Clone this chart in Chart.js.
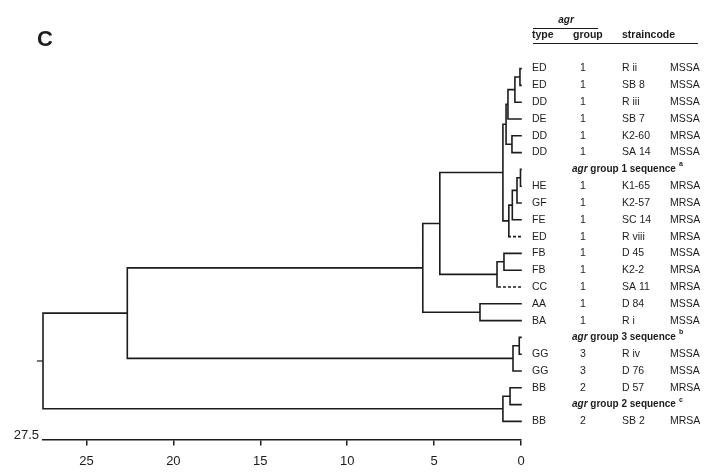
<!DOCTYPE html>
<html>
<head>
<meta charset="utf-8">
<script src="https://cdn.jsdelivr.net/npm/chart.js@4.4.0/dist/chart.umd.min.js"></script>
<style>
  html, body { margin: 0; padding: 0; background: #fff; }
  #wrap { width: 714px; height: 475px; }
</style>
</head>
<body>
<div id="wrap"><canvas id="dendro" width="714" height="475"></canvas></div>
<script>
// filas del dendrograma (de arriba a abajo)
const tipos = ["ED","ED","DD","DE","DD","DD","","HE","GF","FE","ED","FB","FB","CC","AA","BA","","GG","GG","BB","","BB"];
const grupos = ["1","1","1","1","1","1","","1","1","1","1","1","1","1","1","1","","3","3","2","","2"];
const cepas = ["R ii","SB 8","R iii","SB 7","K2-60","SA 14","","K1-65","K2-57","SC 14","R viii","D 45","K2-2","SA 11","D 84","R i","","R iv","D 76","D 57","","SB 2"];
const resistencia = ["MSSA","MSSA","MSSA","MSSA","MRSA","MSSA","","MRSA","MRSA","MRSA","MRSA","MSSA","MRSA","MRSA","MSSA","MSSA","","MSSA","MSSA","MRSA","","MRSA"];
const filasSecuencia = [6, 16, 20];
const gruposSecuencia = ["1", "3", "2"];
const notasSecuencia = ["a", "b", "c"];
const hojasPunteadas = [10, 13];

// uniones: [hijoA, hijoB, distancia]  (numero = fila, "nX" = nodo anterior)
const nodos = [
  [0, 1, 0.06],
  ["n0", 2, 0.35],
  ["n1", 3, 0.75],
  [4, 5, 0.52],
  ["n2", "n3", 0.86],
  [6, 7, 0.03],
  ["n5", 8, 0.23],
  ["n6", 9, 0.5],
  ["n7", 10, 0.7],
  ["n4", "n8", 1.04],
  [11, 12, 0.98],
  ["n10", 13, 1.38],
  ["n9", "n11", 4.67],
  [14, 15, 2.36],
  ["n12", "n13", 5.65],
  [16, 17, 0.1],
  ["n15", 18, 0.46],
  ["n14", "n16", 22.65],
  [19, 20, 0.63],
  ["n18", 21, 1.04],
  ["n17", "n19", 27.5]
];
const ticksX = [0, 5, 10, 15, 20, 25];
const distMax = 27.5;

const fuente = "'Liberation Sans', Arial, sans-serif";
const negro = "#1c1c1c";

// armar segmentos del arbol
const solidos = [];
const punteados = [];
const posNodo = [];

function info(h) {
  if (typeof h === "number") return { y: h, d: 0, hoja: h };
  const k = parseInt(h.slice(1));
  return { y: posNodo[k].y, d: posNodo[k].d, hoja: null };
}

function tramo(lista, x1, y1, x2, y2) {
  lista.push({ x: x1, y: y1 }, { x: x2, y: y2 }, { x: NaN, y: NaN });
}

nodos.forEach(([a, b, d]) => {
  const ia = info(a), ib = info(b);
  [ia, ib].forEach(c => {
    const lista = hojasPunteadas.includes(c.hoja) ? punteados : solidos;
    tramo(lista, c.d, c.y, d, c.y);
  });
  tramo(solidos, d, ia.y, d, ib.y);
  posNodo.push({ y: (ia.y + ib.y) / 2, d: d });
});
const raiz = posNodo[posNodo.length - 1];
const cola = [{ x: raiz.d, y: raiz.y }, { x: raiz.d + 0.35, y: raiz.y }];

const tablaPlugin = {
  id: "tabla",
  afterDraw(chart) {
    const ctx = chart.ctx;
    const ys = chart.scales.y;
    const xs = chart.scales.x;
    ctx.save();
    ctx.fillStyle = negro;
    ctx.strokeStyle = negro;

    ctx.font = "bold 22px " + fuente;
    ctx.textBaseline = "alphabetic";
    ctx.textAlign = "left";
    ctx.fillText("C", 37, 46);

    // encabezado
    ctx.font = "italic bold 10px " + fuente;
    ctx.textAlign = "center";
    ctx.fillText("agr", 566, 23);
    ctx.lineWidth = 1.2;
    ctx.beginPath(); ctx.moveTo(533, 28.5); ctx.lineTo(598, 28.5); ctx.stroke();
    ctx.font = "bold 10.5px " + fuente;
    ctx.textAlign = "left";
    ctx.fillText("type", 532, 38);
    ctx.fillText("group", 573, 38);
    ctx.fillText("straincode", 622, 38);
    ctx.beginPath(); ctx.moveTo(533, 43.5); ctx.lineTo(698, 43.5); ctx.stroke();

    // filas
    ctx.textBaseline = "middle";
    ctx.font = "10.5px " + fuente;
    tipos.forEach((t, i) => {
      if (!t) return;
      const y = ys.getPixelForValue(i);
      ctx.textAlign = "left";
      ctx.fillText(t, 532, y);
      ctx.textAlign = "center";
      ctx.fillText(grupos[i], 583, y);
      ctx.textAlign = "left";
      ctx.fillText(cepas[i], 622, y);
      ctx.fillText(resistencia[i], 670, y);
    });

    filasSecuencia.forEach((f, k) => {
      const y = ys.getPixelForValue(f);
      let x = 572;
      ctx.textAlign = "left";
      ctx.font = "italic bold 10px " + fuente;
      ctx.fillText("agr", x, y);
      x += ctx.measureText("agr").width;
      ctx.font = "bold 10px " + fuente;
      const resto = " group " + gruposSecuencia[k] + " sequence";
      ctx.fillText(resto, x, y);
      x += ctx.measureText(resto).width + 3;
      ctx.font = "bold 7px " + fuente;
      ctx.fillText(notasSecuencia[k], x, y - 5);
    });

    // etiqueta del extremo izquierdo del eje
    ctx.font = "13px " + fuente;
    ctx.textAlign = "right";
    ctx.textBaseline = "alphabetic";
    ctx.fillText("27.5", xs.getPixelForValue(distMax) - 4, chart.chartArea.bottom);
    ctx.restore();
  }
};

new Chart(document.getElementById("dendro").getContext("2d"), {
  type: "scatter",
  data: {
    datasets: [
      { data: solidos, showLine: true, spanGaps: false, borderColor: negro, borderWidth: 1.6, pointRadius: 0, borderCapStyle: "square", clip: false },
      { data: punteados, showLine: true, spanGaps: false, borderColor: negro, borderWidth: 1.6, borderDash: [3, 2], pointRadius: 0, clip: false },
      { data: cola, showLine: true, borderColor: negro, borderWidth: 1.2, pointRadius: 0, clip: false }
    ]
  },
  options: {
    responsive: false,
    animation: false,
    layout: { padding: { left: 43, right: 193, top: 35, bottom: -2 } },
    plugins: { legend: { display: false }, tooltip: { enabled: false } },
    scales: {
      x: {
        type: "linear",
        reverse: true,
        min: 0,
        max: distMax,
        afterBuildTicks: s => { s.ticks = ticksX.map(v => ({ value: v })); },
        grid: { display: true, drawOnChartArea: false, drawTicks: true, tickLength: 6, color: negro, lineWidth: 1.5 },
        border: { display: true, color: negro, width: 1.5 },
        ticks: { color: negro, font: { family: fuente, size: 13 }, padding: 8, maxRotation: 0 }
      },
      y: {
        type: "linear",
        reverse: true,
        min: -2.0,
        max: 22.07,
        display: false
      }
    }
  },
  plugins: [tablaPlugin]
});
</script>
</body>
</html>
